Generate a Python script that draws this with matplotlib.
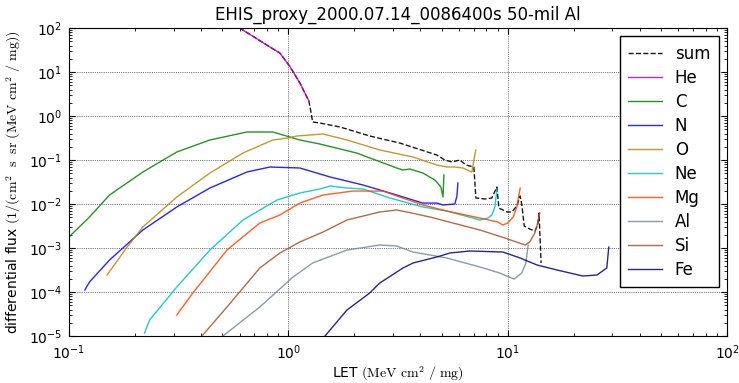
import matplotlib
matplotlib.use('Agg')
import matplotlib.pyplot as plt
from matplotlib.ticker import LogLocator

plt.rcParams['mathtext.fontset'] = 'cm'
plt.rcParams['axes.unicode_minus'] = False
plt.rcParams['font.size'] = 12

# values (LET in MeV cm2/mg, flux)
sum_let = [0.60, 0.824, 0.915, 1.02, 1.128, 1.24, 1.27, 1.29, 1.39, 1.72, 2.35, 3.22, 4.75, 5.17,
           5.57, 6.05, 6.45, 7.01, 7.16, 7.87, 8.47, 8.93, 9.12, 9.92, 10.45, 11.0, 11.4, 11.6,
           11.9, 12.6, 13.3, 13.7, 13.9, 14.2]
sum_flux = [100, 37.0, 27.0, 13.0, 5.62, 2.19, 1.17, 0.731, 0.693, 0.562, 0.351, 0.243, 0.130, 0.100,
            0.090, 0.100, 0.077, 0.0693, 0.0137, 0.0130, 0.0137, 0.0243, 8.1e-3, 6.58e-3, 6.58e-3,
            9.0e-3, 0.0152, 9.5e-3, 3.16e-3, 2.7e-3, 2.43e-3, 3.33e-3, 6.24e-3, 4.56e-4]

he_let = [0.55, 0.60, 0.824, 0.915, 1.02, 1.13, 1.24]
he_flux = [130, 100, 37.0, 27.0, 13.0, 5.6, 2.2]

c_let = [0.1, 0.124, 0.153, 0.217, 0.310, 0.439, 0.647, 0.849, 1.128, 1.39, 2.05, 3.12, 3.33,
         3.58, 4.10, 4.66, 4.96, 5.07, 5.12]
c_flux = [1.78e-3, 5.07e-3, 0.016, 0.0533, 0.152, 0.285, 0.433, 0.433, 0.285, 0.231, 0.144,
          0.0658, 0.0593, 0.0624, 0.0507, 0.0351, 0.0243, 0.0144, 0.0457]

n_let = [0.118, 0.124, 0.153, 0.217, 0.310, 0.439, 0.647, 0.824, 1.128, 1.55, 2.19, 3.12, 4.10,
         4.75, 5.07, 5.74, 5.87, 5.93]
n_flux = [1.11e-4, 1.69e-4, 5.33e-4, 2.56e-3, 8.55e-3, 0.0231, 0.0533, 0.0693, 0.0658, 0.0411,
          0.0270, 0.0160, 0.0105, 0.0105, 9.5e-3, 0.010, 0.0152, 0.030]

o_let = [0.149, 0.184, 0.217, 0.310, 0.439, 0.621, 0.849, 0.995, 1.09, 1.44, 1.85, 2.61, 3.70,
         4.75, 5.28, 5.74, 6.25, 6.87, 7.01, 7.16]
o_flux = [2.43e-4, 1.05e-3, 3.0e-3, 0.0144, 0.0507, 0.144, 0.285, 0.316, 0.351, 0.390, 0.285,
          0.169, 0.117, 0.0770, 0.0693, 0.0693, 0.0658, 0.0533, 0.1, 0.169]

ne_let = [0.221, 0.233, 0.310, 0.439, 0.621, 0.887, 1.128, 1.39, 1.55, 1.85, 2.19, 2.90, 4.10,
          5.28, 7.47, 8.12, 8.47, 8.74, 8.93]
ne_flux = [1.17e-5, 2.31e-5, 1.30e-4, 9.0e-4, 4.33e-3, 0.0123, 0.0178, 0.0219, 0.0257, 0.0231,
           0.0219, 0.0137, 8.55e-3, 6.93e-3, 4.33e-3, 4.8e-3, 5.6e-3, 8.55e-3, 0.0208]

mg_let = [0.310, 0.367, 0.525, 0.741, 0.915, 1.128, 1.44, 1.97, 2.70, 3.22, 4.10, 5.28, 7.47,
          9.02, 9.51, 10.0, 10.6, 11.0, 11.4]
mg_flux = [3.0e-5, 9.5e-5, 9.0e-4, 3.70e-3, 5.62e-3, 0.0105, 0.0160, 0.0197, 0.0197, 0.0144,
           9.5e-3, 6.93e-3, 4.8e-3, 3.9e-3, 3.33e-3, 3.70e-3, 5.07e-3, 8.55e-3, 0.0231]

al_let = [0.503, 0.741, 1.05, 1.29, 1.85, 2.61, 3.12, 3.70, 5.28, 7.47, 9.2, 10.7, 11.6, 12.1, 12.4]
al_flux = [1.0e-5, 4.56e-5, 2.19e-4, 4.56e-4, 9.0e-4, 1.17e-3, 1.11e-3, 8.1e-4, 5.93e-4,
           3.70e-4, 2.7e-4, 1.97e-4, 2.7e-4, 4.56e-4, 1.17e-3]

si_let = [0.407, 0.525, 0.741, 0.915, 1.128, 1.44, 1.85, 2.61, 3.12, 3.47, 4.42, 7.47, 9.7, 12.0,
          12.6, 13.3, 13.7, 14.0]
si_flux = [1.05e-5, 4.56e-5, 3.51e-4, 7.7e-4, 1.37e-3, 2.31e-3, 4.33e-3, 6.58e-3, 7.31e-3,
           6.58e-3, 5.07e-3, 2.56e-3, 1.69e-3, 1.17e-3, 1.37e-3, 2.19e-3, 3.70e-3, 6.24e-3]

fe_let = [1.47, 1.85, 2.35, 2.61, 3.33, 3.70, 4.75, 5.45, 6.73, 9.51, 11.4, 13.6, 16.8, 22.0,
          25.5, 28.3, 28.9]
fe_flux = [1e-5, 3.9e-5, 9.5e-5, 1.60e-4, 3.51e-4, 4.56e-4, 6.24e-4, 7.7e-4, 8.55e-4, 8.1e-4,
           5.93e-4, 4.11e-4, 3.16e-4, 2.31e-4, 2.43e-4, 3.51e-4, 1.05e-3]

species = ['He', 'C', 'N', 'O', 'Ne', 'Mg', 'Al', 'Si', 'Fe']
colors = ['m', 'g', 'b', 'darkgoldenrod', 'c', 'orangered', 'lightslategray', 'sienna', 'navy']
lets = [he_let, c_let, n_let, o_let, ne_let, mg_let, al_let, si_let, fe_let]
fluxes = [he_flux, c_flux, n_flux, o_flux, ne_flux, mg_flux, al_flux, si_flux, fe_flux]

fig = plt.figure(figsize=(7.39, 3.83), dpi=100)
ax = fig.add_axes([0.0934, 0.1227, 0.8904, 0.8042])

ax.plot(sum_let, sum_flux, 'k--', lw=1, alpha=0.9, label='sum')
for name, col, x, y in zip(species, colors, lets, fluxes):
    ax.plot(x, y, color=col, lw=1, alpha=0.85, label=name)

ax.set_xscale('log')
ax.set_yscale('log')
ax.set_xlim(0.1, 100)
ax.set_ylim(1e-5, 100)
ax.xaxis.set_minor_locator(LogLocator(base=10, subs=range(2, 10), numticks=20))
ax.yaxis.set_minor_locator(LogLocator(base=10, subs=range(2, 10), numticks=20))
ax.tick_params(which='both', direction='in', top=True, right=True)
ax.tick_params(which='major', length=4, pad=5, labelsize=10)
ax.tick_params(which='minor', length=2)
ax.grid(True, which='major', color='k', linestyle=':', linewidth=0.5)

ax.set_title('EHIS_proxy_2000.07.14_0086400s 50-mil Al', fontsize=12)
ax.set_xlabel(r'LET $(\mathrm{MeV\ cm^2\ /\ mg})$', fontsize=10, labelpad=2)
ax.set_ylabel(r'differential flux $(1/(\mathrm{cm}^2\ \ \mathrm{s}\ \ \mathrm{sr}\ (\mathrm{MeV\ cm^2\ /\ mg}))$',
              fontsize=10, labelpad=4)

leg = ax.legend(loc='upper right', fancybox=False, framealpha=1, edgecolor='k',
                fontsize=12, labelspacing=0.36, handlelength=2.0, borderpad=0.5)
leg.get_frame().set_linewidth(1)

fig.savefig('out.png', dpi=100)
